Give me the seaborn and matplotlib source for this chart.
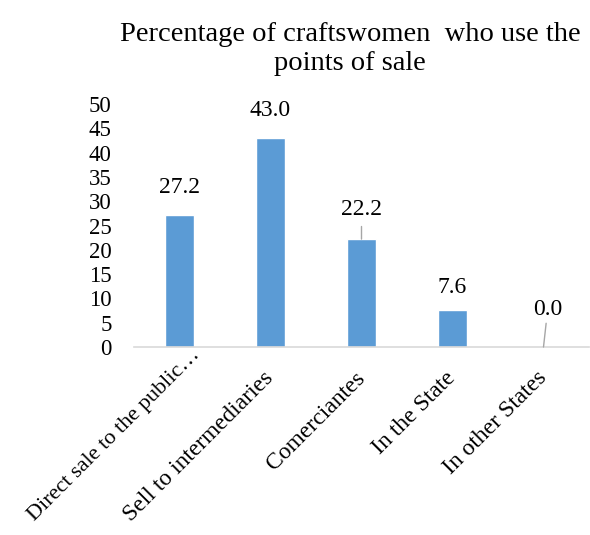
import matplotlib
matplotlib.use("Agg")
import matplotlib.pyplot as plt
import seaborn as sns
import pandas as pd

categories = ["Direct sale to the public…", "Sell to intermediaries", "Comerciantes",
              "In the State", "In other States"]
values = [27.2, 43.0, 22.2, 7.6, 0.0]
yticks = [0, 5, 10, 15, 20, 25, 30, 35, 40, 45, 50]
title = "Percentage of craftswomen  who use the\npoints of sale"

sns.set_theme(style="white")
plt.rcParams["font.family"] = ["Liberation Serif", "DejaVu Serif"]
plt.rcParams["text.color"] = "black"
plt.rcParams["xtick.color"] = "black"
plt.rcParams["ytick.color"] = "black"

FS = 16.5
LFS = 17

df = pd.DataFrame({"cat": categories, "val": values})

fig = plt.figure(figsize=(5.9, 5.35), dpi=100)
ax = fig.add_axes([134 / 590, 1 - 347 / 535, 455 / 590, (347 - 104) / 535])
sns.barplot(data=df, x="cat", y="val", color="#5B9BD5", saturation=1, width=0.31, ax=ax)

ax.set_ylim(0, 50)
ax.set_xlim(-0.5, 4.5)
ax.set_yticks(yticks)
ax.set_yticklabels([str(t) for t in yticks], fontsize=FS)
ax.tick_params(axis="y", length=0, pad=16)
ax.tick_params(axis="x", length=0)
ax.set_xlabel("")
ax.set_ylabel("")
for s in ["top", "right", "left"]:
    ax.spines[s].set_visible(False)
ax.spines["bottom"].set_color("#D9D9D9")
ax.spines["bottom"].set_linewidth(1.2)

# category labels (rotated, drawn at the category positions)
ax.set_xticks(range(len(categories)))
ax.set_xticklabels([])
for i, cat in enumerate(categories):
    off = (13, -4) if i == 0 else (0, -20)
    ax.annotate(cat, xy=(i, 0), xycoords=("data", "axes fraction"), xytext=off,
                textcoords="offset points", rotation=45, rotation_mode="anchor",
                ha="right", va="center", fontsize=16 if i == 0 else LFS,
                annotation_clip=False)

# data labels
line_kw = dict(arrowstyle="-", color="#A6A6A6", lw=1, shrinkB=0)
for i, v in enumerate(values):
    txt = f"{v:.1f}"
    if i == 2:
        ax.annotate(txt, xy=(i, v), xytext=(0, 21), textcoords="offset points",
                    ha="center", va="center", fontsize=LFS,
                    arrowprops=dict(shrinkA=2, **line_kw))
    elif i == 4:
        ax.annotate(txt, xy=(i, v), xytext=(3, 27), textcoords="offset points",
                    ha="center", va="center", fontsize=LFS,
                    arrowprops=dict(shrinkA=0, **line_kw))
    elif i == 3:
        ax.annotate(txt, xy=(i, v), xytext=(0, 16.5), textcoords="offset points",
                    ha="center", va="center", fontsize=LFS)
    else:
        ax.annotate(txt, xy=(i, v), xytext=(0, 20), textcoords="offset points",
                    ha="center", va="center", fontsize=LFS)

fig.text(350 / 590, 1 - 49 / 535, title, ha="center", va="center",
         multialignment="center", fontsize=20.5, linespacing=1.25)

fig.savefig("out.png", dpi=100)
